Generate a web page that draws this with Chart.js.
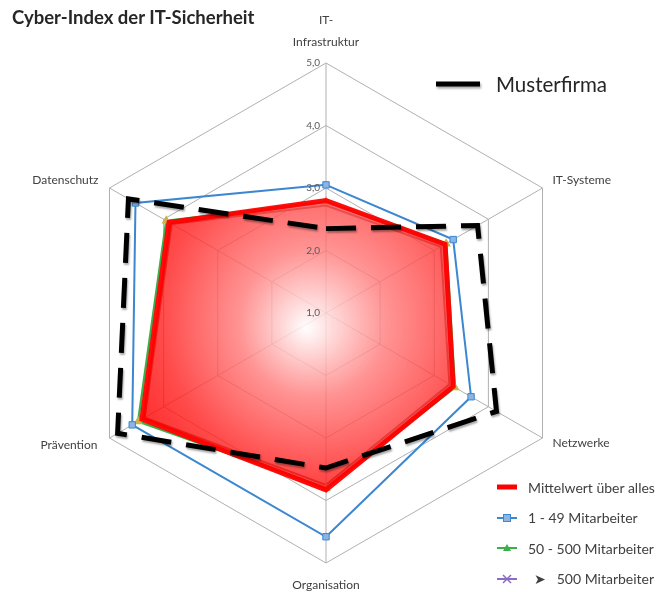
<!DOCTYPE html>
<html lang="de">
<head>
    <meta charset="UTF-8">
    <title>Cyber-Index der IT-Sicherheit</title>
    <script src="https://cdn.jsdelivr.net/npm/chart.js@4.4.1/dist/chart.umd.min.js"></script>
    <style>
        body { margin: 0; background: #fff; font-family: Lato, "Open Sans", sans-serif; }
        #wrap { position: relative; width: 669px; height: 592px; }
        #title { position: absolute; left: 12px; top: 6px; font-size: 18.5px; font-weight: bold; color: #262626; }
        .legend { position: absolute; color: #404040; }
        .legend .row { display: flex; align-items: center; height: 30.5px; font-size: 14px; }
        .legend svg { margin-right: 10px; }
        #topLegend { left: 433px; top: 72px; display: flex; align-items: center; font-size: 20.5px; color: #262626; }
    </style>
</head>
<body>
<div id="wrap">
    <canvas id="chart"></canvas>
    <div id="title">Cyber-Index der IT-Sicherheit</div>
    <div id="topLegend" class="legend">
        <svg width="50" height="14"><line x1="3" y1="7" x2="47" y2="7" stroke="#000" stroke-width="5" style="filter: drop-shadow(1px 2px 1px rgba(0,0,0,0.35))"/></svg>
        <span style="margin-left:3px">Musterfirma</span>
    </div>
    <div id="bottomLegend" class="legend" style="left:496px; top:472px;">
        <div class="row"><svg width="22" height="10"><line x1="1" y1="5" x2="21" y2="5" stroke="#ff0000" stroke-width="5"/></svg>Mittelwert über alles</div>
        <div class="row"><svg width="22" height="10"><line x1="1" y1="5" x2="21" y2="5" stroke="#3b87d0" stroke-width="2"/><rect x="7.5" y="1.5" width="7" height="7" fill="#8db4e2" stroke="#3b87d0"/></svg>1 - 49 Mitarbeiter</div>
        <div class="row"><svg width="22" height="10"><line x1="1" y1="5" x2="21" y2="5" stroke="#3cae4a" stroke-width="2"/><path d="M11 1 L15 8 L7 8 Z" fill="#3cae4a"/></svg>50 - 500 Mitarbeiter</div>
        <div class="row"><svg width="22" height="10"><line x1="1" y1="5" x2="21" y2="5" stroke="#8a6cc4" stroke-width="2"/><path d="M7 1 L15 9 M15 1 L7 9" stroke="#8a6cc4" stroke-width="1.5"/></svg><span style="margin-left:6px">➤&nbsp;&nbsp;&nbsp;500 Mitarbeiter</span></div>
    </div>
</div>

<script>
    // Kategorien und Werte
    const categories = [['IT-', 'Infrastruktur'], 'IT-Systeme', 'Netzwerke', 'Organisation', 'Prävention', 'Datenschutz'];
    const musterfirma = [2.35, 3.8, 4.15, 3.48, 4.85, 4.65];
    const mittelwert = [2.8, 3.2, 3.35, 3.83, 4.4, 3.9];
    const ma1bis49 = [3.05, 3.35, 3.68, 4.58, 4.58, 4.52];
    const ma50bis500 = [2.78, 3.22, 3.38, 3.8, 4.47, 3.95];
    const maUeber500 = [2.72, 3.12, 3.28, 3.75, 4.35, 3.85];
    const tickValues = [1, 2, 3, 4, 5];
    const tickLabels = ['1,0', '2,0', '3,0', '4,0', '5,0'];

    // Versatz der Achsenbeschriftungen je Ecke: [dx, dy, align]
    const labelOffsets = [
        [0, -21, 'center'],
        [10, -8, 'left'],
        [10, 5, 'left'],
        [0, 22, 'center'],
        [-12, 7, 'right'],
        [-11, -8, 'right']
    ];

    function redGradient(context) {
        const s = context.chart.scales.r;
        if (!s || !s.drawingArea) return 'rgba(255,0,0,0.6)';
        const g = context.chart.ctx.createRadialGradient(s.xCenter - 20, s.yCenter + 15, 0, s.xCenter, s.yCenter, s.drawingArea * 0.85);
        g.addColorStop(0, 'rgba(255,255,255,0.85)');
        g.addColorStop(0.35, 'rgba(255,120,120,0.8)');
        g.addColorStop(0.75, 'rgba(255,30,30,0.8)');
        g.addColorStop(1, 'rgba(255,0,0,0.82)');
        return g;
    }

    const labelsPlugin = {
        id: 'labels',
        afterDraw(chart) {
            const s = chart.scales.r;
            const ctx = chart.ctx;
            ctx.save();
            ctx.fillStyle = '#404040';
            ctx.font = '12px Lato, "Open Sans", sans-serif';
            ctx.textBaseline = 'middle';
            categories.forEach((cat, i) => {
                const p = s.getPointPosition(i, s.drawingArea);
                const off = labelOffsets[i];
                ctx.textAlign = off[2];
                const lines = Array.isArray(cat) ? cat : [cat];
                lines.forEach((line, j) => {
                    ctx.fillText(line, p.x + off[0], p.y + off[1] - (lines.length - 1 - j) * 22);
                });
            });
            ctx.font = '10px Lato, "Open Sans", sans-serif';
            ctx.fillStyle = '#595959';
            ctx.textAlign = 'right';
            tickValues.forEach((v, i) => {
                const d = s.getDistanceFromCenterForValue(v);
                ctx.fillText(tickLabels[i], s.xCenter - 6, s.yCenter - d);
            });
            ctx.restore();
        },
        beforeDatasetDraw(chart, args) {
            if (args.index === 0) {
                chart.ctx.save();
                chart.ctx.shadowColor = 'rgba(0,0,0,0.35)';
                chart.ctx.shadowOffsetX = 1;
                chart.ctx.shadowOffsetY = 2;
                chart.ctx.shadowBlur = 2;
            }
        },
        afterDatasetDraw(chart, args) {
            if (args.index === 0) chart.ctx.restore();
        }
    };

    new Chart(document.getElementById('chart'), {
        type: 'radar',
        data: {
            labels: categories,
            datasets: [
                {
                    label: 'Musterfirma',
                    data: musterfirma,
                    borderColor: '#000',
                    borderWidth: 5,
                    borderDash: [30, 15],
                    fill: false,
                    pointRadius: 0,
                    order: 0
                },
                {
                    label: '1 - 49 Mitarbeiter',
                    data: ma1bis49,
                    borderColor: '#3b87d0',
                    borderWidth: 2,
                    fill: false,
                    pointStyle: 'rect',
                    pointRadius: 4.5,
                    pointBackgroundColor: '#8db4e2',
                    pointBorderColor: '#3b87d0',
                    pointBorderWidth: 1,
                    order: 1
                },
                {
                    label: 'Mittelwert über alles',
                    data: mittelwert,
                    borderColor: 'rgba(255,0,0,0.95)',
                    borderWidth: 5,
                    backgroundColor: redGradient,
                    fill: true,
                    pointRadius: 0,
                    order: 2
                },
                {
                    label: '50 - 500 Mitarbeiter',
                    data: ma50bis500,
                    borderColor: '#3cae4a',
                    borderWidth: 2.5,
                    fill: false,
                    pointStyle: 'triangle',
                    pointRadius: 3,
                    pointBackgroundColor: '#c8b44a',
                    pointBorderColor: '#c8b44a',
                    order: 3
                },
                {
                    label: '> 500 Mitarbeiter',
                    data: maUeber500,
                    borderColor: '#8a4a3a',
                    borderWidth: 2,
                    fill: false,
                    pointRadius: 0,
                    order: 4
                }
            ]
        },
        options: {
            responsive: true,
            maintainAspectRatio: false,
            animation: false,
            layout: { padding: { left: 76, right: 93, top: 63, bottom: 29 } },
            plugins: { legend: { display: false }, tooltip: { enabled: false } },
            elements: { line: { tension: 0 } },
            scales: {
                r: {
                    min: 1,
                    max: 5,
                    ticks: { stepSize: 1, display: false },
                    pointLabels: { display: false },
                    grid: { color: '#b0b0b0', lineWidth: 1 },
                    angleLines: { color: '#b0b0b0', lineWidth: 1 }
                }
            }
        },
        plugins: [labelsPlugin]
    });
</script>
</body>
</html>
